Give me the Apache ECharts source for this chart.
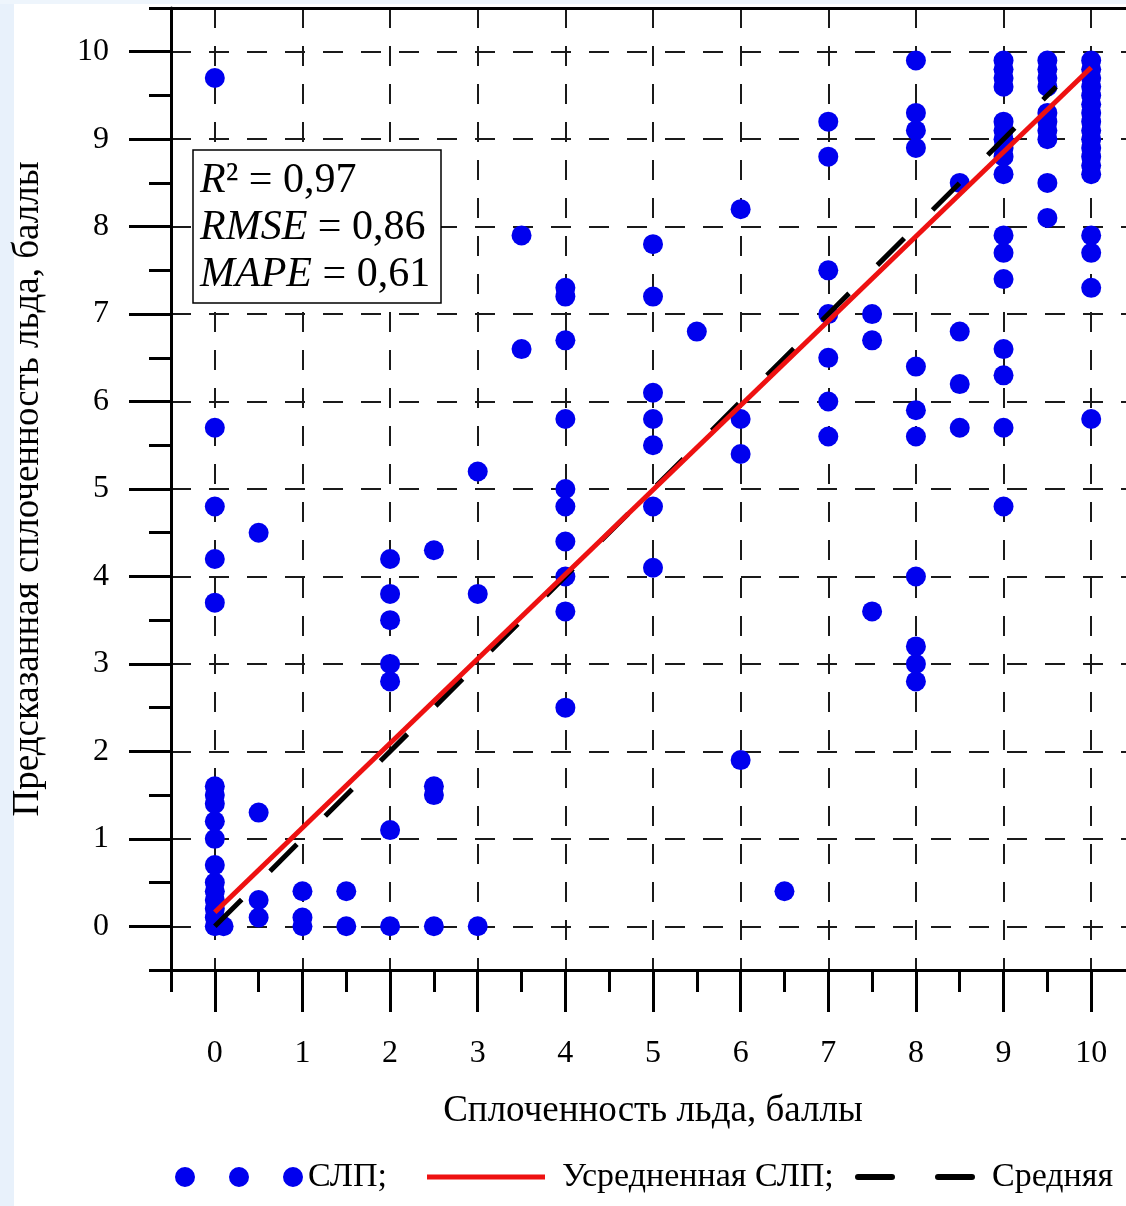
<!DOCTYPE html>
<html>
<head>
<meta charset="utf-8">
<script src="https://cdn.jsdelivr.net/npm/echarts@6/dist/echarts.min.js"></script>
<style>
html,body{margin:0;padding:0;background:#fff;}
#c{width:1126px;height:1206px;}
</style>
</head>
<body>
<div id="c"></div>
<script>
// ---------- data ----------
const xMajorTicks = [0, 1, 2, 3, 4, 5, 6, 7, 8, 9, 10];
const yMajorTicks = [0, 1, 2, 3, 4, 5, 6, 7, 8, 9, 10];
const minorTicks = [-0.5, 0.5, 1.5, 2.5, 3.5, 4.5, 5.5, 6.5, 7.5, 8.5, 9.5, 10.5];

// observed ice concentration (x) for each column of points
const obsCols = [0, 0.1, 0.5, 1, 1.5, 2, 2.5, 3, 3.5, 4, 5, 5.5, 6, 6.5, 7, 7.5, 8, 8.5, 9, 9.5, 10];
// predicted values (y) in each column
const predByCol = [
  [9.7, 5.7, 4.8, 4.2, 3.7, 1.6, 1.5, 1.4, 1.2, 1.0, 0.7, 0.5, 0.4, 0.3, 0.2, 0.1, 0.0],
  [0.0],
  [4.5, 1.3, 0.3, 0.1],
  [0.4, 0.1, 0.0],
  [0.4, 0.0],
  [4.2, 3.8, 3.5, 3.0, 2.8, 1.1, 0.0],
  [4.3, 1.6, 1.5, 0.0],
  [5.2, 3.8, 0.0],
  [7.9, 6.6],
  [7.3, 7.2, 6.7, 5.8, 5.0, 4.8, 4.4, 4.0, 3.6, 2.5],
  [7.8, 7.2, 6.1, 5.8, 5.5, 4.8, 4.1],
  [6.8],
  [8.2, 5.8, 5.4, 1.9],
  [0.4],
  [9.2, 8.8, 7.5, 7.0, 6.5, 6.0, 5.6],
  [7.0, 6.7, 3.6],
  [9.9, 9.3, 9.1, 8.9, 6.4, 5.9, 5.6, 4.0, 3.2, 3.0, 2.8],
  [8.5, 6.8, 6.2, 5.7],
  [9.9, 9.8, 9.7, 9.6, 9.2, 9.1, 9.0, 8.9, 8.8, 8.6, 7.9, 7.7, 7.4, 6.6, 6.3, 5.7, 4.8],
  [9.9, 9.8, 9.7, 9.6, 9.3, 9.2, 9.1, 9.0, 8.5, 8.1],
  [9.9, 9.8, 9.7, 9.6, 9.5, 9.4, 9.3, 9.2, 9.1, 9.0, 8.9, 8.8, 8.7, 8.6, 7.9, 7.7, 7.3, 5.8]
];

// averaged SLP line (red) and mean line (black dashed)
const avgLineX = [0, 10];
const avgLineY = [0.16, 9.82];
const meanLineX = [0, 9.6];
const meanLineY = [0, 9.6];

// statistics box
const statNames = ['R', 'RMSE', 'MAPE'];
const statSuffix = ['\u00B2', '', ''];
const statValues = ['0,97', '0,86', '0,61'];

const seriesNames = ['СЛП;', 'Усредненная СЛП;', 'Средняя'];
const xAxisName = 'Сплоченность льда, баллы';
const yAxisName = 'Предсказанная сплоченность льда, баллы';

// ---------- build ----------
const FONT = "'Liberation Serif','Times New Roman',serif";
const scatterData = [];
obsCols.forEach((x, i) => predByCol[i].forEach(y => scatterData.push([x, y])));
const avgData = avgLineX.map((x, i) => [x, avgLineY[i]]);
const meanData = meanLineX.map((x, i) => [x, meanLineY[i]]);

const BLUE = '#0000ee';
const RED = '#ee1111';
const axisLineStyle = { color: '#000', width: 3 };
const gridLineStyle = { color: '#1a1a1a', width: 2, type: [20, 18] };
const labelStyle = { fontFamily: FONT, fontSize: 32, color: '#000' };
const nameStyle = { fontFamily: FONT, fontSize: 37, color: '#000' };
const legendText = { fontFamily: FONT, fontSize: 34, color: '#000' };

const DOTS = 'path://M0,10a10,10 0 1,0 20,0a10,10 0 1,0 -20,0Z M54,10a10,10 0 1,0 20,0a10,10 0 1,0 -20,0Z M108,10a10,10 0 1,0 20,0a10,10 0 1,0 -20,0Z';
const DASHES = 'path://M3,0h34a3,3 0 0,1 0,6h-34a3,3 0 0,1 0,-6Z M83,0h34a3,3 0 0,1 0,6h-34a3,3 0 0,1 0,-6Z';

const chart = echarts.init(document.getElementById('c'), null, { renderer: 'canvas' });

const statGraphics = statNames.map((n, i) => ({
  type: 'text',
  x: 200,
  y: 181 + i * 47,
  z: 101,
  style: {
    text: '{i|' + n + '}{n|' + statSuffix[i] + ' = ' + statValues[i] + '}',
    rich: {
      i: { fontFamily: FONT, fontSize: 42, fontStyle: 'italic', fill: '#000' },
      n: { fontFamily: FONT, fontSize: 42, fill: '#000' }
    },
    fontFamily: FONT, fontSize: 42, fill: '#000',
    verticalAlign: 'middle', align: 'left'
  }
}));

const option = {
  animation: false,
  backgroundColor: '#fff',
  grid: {
    left: 171, top: 8, width: 964, height: 962,
    containLabel: false, outerBoundsMode: 'none',
    show: false
  },
  xAxis: [
    {
      type: 'value', min: -0.5, max: 10.5, position: 'bottom',
      name: xAxisName, nameLocation: 'middle', nameGap: 123,
      nameTextStyle: nameStyle,
      axisLine: { show: true, onZero: false, lineStyle: axisLineStyle },
      axisTick: { show: true, inside: false, length: 42, customValues: xMajorTicks, lineStyle: axisLineStyle },
      axisLabel: { show: true, customValues: xMajorTicks, margin: 68, ...labelStyle },
      splitLine: { show: true, lineStyle: gridLineStyle },
      minorTick: { show: false }, minorSplitLine: { show: false }
    },
    {
      type: 'value', min: -0.5, max: 10.5, position: 'bottom',
      axisLine: { show: false, onZero: false },
      axisTick: { show: true, inside: false, length: 22, customValues: minorTicks, lineStyle: axisLineStyle },
      axisLabel: { show: false },
      splitLine: { show: false }
    },
    {
      type: 'value', min: -0.5, max: 10.5, position: 'top',
      axisLine: { show: true, onZero: false, lineStyle: axisLineStyle },
      axisTick: { show: false }, axisLabel: { show: false }, splitLine: { show: false }
    }
  ],
  yAxis: [
    {
      type: 'value', min: -0.5, max: 10.5, position: 'left',
      name: yAxisName, nameLocation: 'middle', nameGap: 124,
      nameTextStyle: nameStyle,
      axisLine: { show: true, onZero: false, lineStyle: axisLineStyle },
      axisTick: { show: true, inside: false, length: 42, customValues: yMajorTicks, lineStyle: axisLineStyle },
      axisLabel: { show: true, customValues: yMajorTicks, margin: 62, ...labelStyle },
      splitLine: { show: true, lineStyle: gridLineStyle },
      minorTick: { show: false }, minorSplitLine: { show: false }
    },
    {
      type: 'value', min: -0.5, max: 10.5, position: 'left',
      axisLine: { show: false, onZero: false },
      axisTick: { show: true, inside: false, length: 22, customValues: minorTicks, lineStyle: axisLineStyle },
      axisLabel: { show: false },
      splitLine: { show: false }
    }
  ],
  legend: [
    {
      data: [{ name: seriesNames[0], icon: DOTS, itemStyle: { color: BLUE } }],
      left: 175, top: 1160, padding: 0, itemWidth: 128, itemHeight: 20,
      selectedMode: false, textStyle: { ...legendText, padding: [0, 0, 0, 0] }
    },
    {
      data: [{ name: seriesNames[1], icon: 'rect', itemStyle: { color: RED } }],
      left: 427, top: 1160, padding: 0, itemWidth: 118, itemHeight: 5,
      selectedMode: false, textStyle: { ...legendText, padding: [0, 0, 0, 12] }
    },
    {
      data: [{ name: seriesNames[2], icon: DASHES, itemStyle: { color: '#000' } }],
      left: 855, top: 1160, padding: 0, itemWidth: 120, itemHeight: 6,
      selectedMode: false, textStyle: { ...legendText, padding: [0, 0, 0, 12] }
    }
  ],
  series: [
    {
      name: seriesNames[0], type: 'scatter', xAxisIndex: 0, yAxisIndex: 0,
      data: scatterData, symbol: 'circle', symbolSize: 20,
      itemStyle: { color: BLUE, opacity: 1 }, z: 2
    },
    {
      name: seriesNames[1], type: 'line', xAxisIndex: 0, yAxisIndex: 0,
      data: avgData, symbol: 'none',
      lineStyle: { color: RED, width: 5 }, itemStyle: { color: RED }, z: 4
    },
    {
      name: seriesNames[2], type: 'line', xAxisIndex: 0, yAxisIndex: 0,
      data: meanData, symbol: 'none',
      lineStyle: { color: '#000', width: 5, type: [38, 40] }, itemStyle: { color: '#000' }, z: 3
    }
  ],
  graphic: [
    { type: 'rect', z: -1, silent: true, shape: { x: 0, y: 0, width: 14, height: 1206 }, style: { fill: '#e8f1fb' } },
    { type: 'rect', z: -1, silent: true, shape: { x: 0, y: 0, width: 1126, height: 4 }, style: { fill: '#eef5fc' } },
    { type: 'rect', z: 100, shape: { x: 193, y: 150, width: 248, height: 153 }, style: { fill: '#fff', stroke: '#000', lineWidth: 1.5 } },
    ...statGraphics
  ]
};
chart.setOption(option);
</script>
</body>
</html>
